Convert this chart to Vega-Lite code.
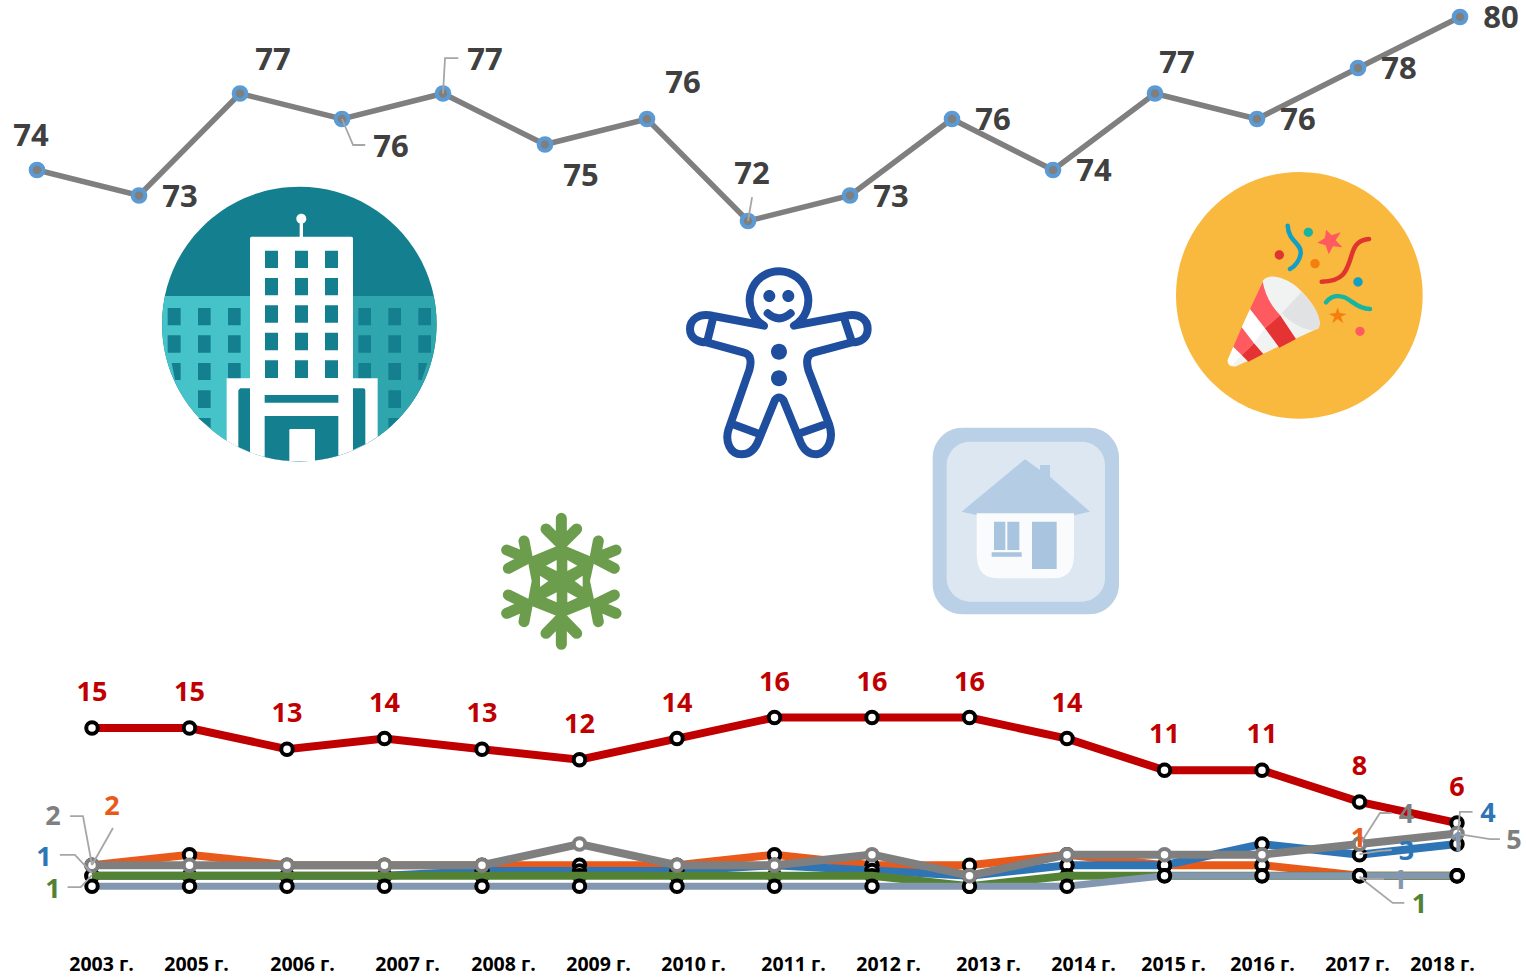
{"$schema":"https://vega.github.io/schema/vega-lite/v6.json","width":1526,"height":979,"autosize":"none","padding":0,"background":"white",
"datasets":{
"top":[{"year":2003,"value":74},{"year":2005,"value":73},{"year":2006,"value":77},{"year":2007,"value":76},{"year":2008,"value":77},{"year":2009,"value":75},{"year":2010,"value":76},{"year":2011,"value":72},{"year":2012,"value":73},{"year":2013,"value":76},{"year":2014,"value":74},{"year":2015,"value":77},{"year":2016,"value":76},{"year":2017,"value":78},{"year":2018,"value":80}],
"topLeaders":[{"leader":"a","order":1,"year":2007,"value":76},{"leader":"a","order":2,"year":2007.11,"value":74.98},{"leader":"a","order":3,"year":2007.23,"value":74.98},{"leader":"b","order":1,"year":2008,"value":77},{"leader":"b","order":2,"year":2008.02,"value":78.39},{"leader":"b","order":3,"year":2008.15,"value":78.39},{"leader":"c","order":1,"year":2011,"value":72},{"leader":"c","order":2,"year":2011.04,"value":72.94}],
"share":[
{"year":2003,"series":"red","value":15},{"year":2005,"series":"red","value":15},{"year":2006,"series":"red","value":13},{"year":2007,"series":"red","value":14},{"year":2008,"series":"red","value":13},{"year":2009,"series":"red","value":12},{"year":2010,"series":"red","value":14},{"year":2011,"series":"red","value":16},{"year":2012,"series":"red","value":16},{"year":2013,"series":"red","value":16},{"year":2014,"series":"red","value":14},{"year":2015,"series":"red","value":11},{"year":2016,"series":"red","value":11},{"year":2017,"series":"red","value":8},{"year":2018,"series":"red","value":6},
{"year":2003,"series":"orange","value":2},{"year":2005,"series":"orange","value":3},{"year":2006,"series":"orange","value":2},{"year":2007,"series":"orange","value":2},{"year":2008,"series":"orange","value":2},{"year":2009,"series":"orange","value":2},{"year":2010,"series":"orange","value":2},{"year":2011,"series":"orange","value":3},{"year":2012,"series":"orange","value":2},{"year":2013,"series":"orange","value":2},{"year":2014,"series":"orange","value":3},{"year":2015,"series":"orange","value":2},{"year":2016,"series":"orange","value":2},{"year":2017,"series":"orange","value":1},{"year":2018,"series":"orange","value":1},
{"year":2003,"series":"blue","value":1},{"year":2005,"series":"blue","value":1},{"year":2006,"series":"blue","value":1},{"year":2007,"series":"blue","value":1},{"year":2008,"series":"blue","value":1.45},{"year":2009,"series":"blue","value":1.45},{"year":2010,"series":"blue","value":1.45},{"year":2011,"series":"blue","value":2},{"year":2012,"series":"blue","value":1.5},{"year":2013,"series":"blue","value":1},{"year":2014,"series":"blue","value":2},{"year":2015,"series":"blue","value":2},{"year":2016,"series":"blue","value":4},{"year":2017,"series":"blue","value":3},{"year":2018,"series":"blue","value":4},
{"year":2003,"series":"green","value":1},{"year":2005,"series":"green","value":1},{"year":2006,"series":"green","value":1},{"year":2007,"series":"green","value":1},{"year":2008,"series":"green","value":1},{"year":2009,"series":"green","value":1},{"year":2010,"series":"green","value":1},{"year":2011,"series":"green","value":1},{"year":2012,"series":"green","value":1},{"year":2013,"series":"green","value":0},{"year":2014,"series":"green","value":1},{"year":2015,"series":"green","value":1},{"year":2016,"series":"green","value":1},{"year":2017,"series":"green","value":1},{"year":2018,"series":"green","value":1},
{"year":2003,"series":"steel","value":0},{"year":2005,"series":"steel","value":0},{"year":2006,"series":"steel","value":0},{"year":2007,"series":"steel","value":0},{"year":2008,"series":"steel","value":0},{"year":2009,"series":"steel","value":0},{"year":2010,"series":"steel","value":0},{"year":2011,"series":"steel","value":0},{"year":2012,"series":"steel","value":0},{"year":2013,"series":"steel","value":0},{"year":2014,"series":"steel","value":0},{"year":2015,"series":"steel","value":1},{"year":2016,"series":"steel","value":1},{"year":2017,"series":"steel","value":1},{"year":2018,"series":"steel","value":1},
{"year":2003,"series":"gray","value":2},{"year":2005,"series":"gray","value":2},{"year":2006,"series":"gray","value":2},{"year":2007,"series":"gray","value":2},{"year":2008,"series":"gray","value":2},{"year":2009,"series":"gray","value":4},{"year":2010,"series":"gray","value":2},{"year":2011,"series":"gray","value":2},{"year":2012,"series":"gray","value":3},{"year":2013,"series":"gray","value":1},{"year":2014,"series":"gray","value":3},{"year":2015,"series":"gray","value":3},{"year":2016,"series":"gray","value":3},{"year":2017,"series":"gray","value":4},{"year":2018,"series":"gray","value":5}],
"leaders":[
{"leader":"a","order":1,"year":2003,"value":2.02},{"leader":"a","order":2,"year":2002.815,"value":6.66},{"leader":"a","order":3,"year":2002.55,"value":6.66},
{"leader":"b","order":1,"year":2003,"value":2.02},{"leader":"b","order":2,"year":2003.43,"value":5.53},
{"leader":"c","order":1,"year":2003,"value":1.26},{"leader":"c","order":2,"year":2002.65,"value":2.97},{"leader":"c","order":3,"year":2002.34,"value":2.97},
{"leader":"d","order":1,"year":2003,"value":1.07},{"leader":"d","order":2,"year":2002.77,"value":-0.07},{"leader":"d","order":3,"year":2002.5,"value":-0.07},
{"leader":"e","order":1,"year":2017,"value":3.91},{"leader":"e","order":2,"year":2017.21,"value":6.95},{"leader":"e","order":3,"year":2017.33,"value":6.95},
{"leader":"f","order":1,"year":2017,"value":3.06},{"leader":"f","order":2,"year":2017.21,"value":3.35},{"leader":"f","order":3,"year":2017.33,"value":3.44},
{"leader":"g","order":1,"year":2017,"value":0.88},{"leader":"g","order":2,"year":2017.09,"value":0.69},{"leader":"g","order":3,"year":2017.25,"value":0.69},
{"leader":"h","order":1,"year":2017,"value":0.88},{"leader":"h","order":2,"year":2017.34,"value":-1.58},{"leader":"h","order":3,"year":2017.46,"value":-1.58},
{"leader":"i","order":1,"year":2018,"value":4.11},{"leader":"i","order":2,"year":2018.03,"value":7.05},{"leader":"i","order":3,"year":2018.16,"value":7.05},
{"leader":"j","order":1,"year":2018,"value":4.96},{"leader":"j","order":2,"year":2018.34,"value":4.48},{"leader":"j","order":3,"year":2018.44,"value":4.48}],
"one":[{"item":"illustration"}]},
"config":{"view":{"stroke":null},"text":{"font":"Open Sans","fontWeight":700}},
"resolve":{"scale":{"x":"independent","y":"independent"},"axis":{"x":"independent","y":"independent"}},
"layer":[
{"data":{"name":"one"},"encoding":{"x":{"value":150},"y":{"value":180}},"layer":[
{"mark":{"type":"point","filled":true,"opacity":1,"size":0.44444,"fill":"#14808F","shape":"M36 432A412 412 0 1 1 860 432A412 412 0 1 1 36 432Z"}},
{"mark":{"type":"point","filled":true,"opacity":1,"size":0.44444,"fill":"#45C3C9","shape":"M45 348H300V782H230A412 412 0 0 1 45 348Z"}},
{"mark":{"type":"point","filled":true,"opacity":1,"size":0.44444,"fill":"#2FA5AD","shape":"M851 348H600V770H683A412 412 0 0 0 851 348Z"}},
{"mark":{"type":"point","filled":true,"opacity":1,"size":0.44444,"fill":"#14808F","shape":"M53 384H92V436H53ZM144 384H182V436H144ZM234 384H272V436H234ZM53 466H92V518H53ZM144 466H182V518H144ZM234 466H272V518H234ZM65 549H92V600H75ZM144 549H182V600H144ZM234 549H272V600H234ZM144 631H182V684H144ZM144 714H182V745L144 714ZM625 384H663V436H625ZM715 384H753V436H715ZM805 384H843V436H805ZM625 466H663V518H625ZM715 466H753V518H715ZM805 466H843V518H805ZM625 549H663V600H625ZM715 549H753V600H715ZM805 549H832L815 600H805ZM715 631H753V684H715ZM715 714H748L715 745Z"}},
{"mark":{"type":"point","filled":true,"opacity":1,"size":0.44444,"fill":"#FFFFFF","shape":"M300 175Q300 170 305 170H604Q609 170 609 175V595H683V770A412 412 0 0 1 230 782V595H300ZM449 125H459V172H449ZM439 116A15 15 0 1 1 469 116A15 15 0 1 1 439 116Z"}},
{"mark":{"type":"point","filled":true,"opacity":1,"size":0.44444,"fill":"#14808F","shape":"M345 212H384V264H345ZM435 212H474V264H435ZM525 212H564V264H525ZM345 294H384V346H345ZM435 294H474V346H435ZM525 294H564V346H525ZM345 376H384V428H345ZM435 376H474V428H435ZM525 376H564V428H525ZM345 458H384V511H345ZM435 458H474V511H435ZM525 458H564V511H525ZM345 541H384V594H345ZM435 541H474V594H435ZM525 541H564V594H525ZM271 625H300V817L265 801V631ZM609 625H640Q646 625 646 631V793L609 810ZM344 645H565V668H344ZM344 708H565V827A412 412 0 0 1 344 831Z"}},
{"mark":{"type":"point","filled":true,"opacity":1,"size":0.44444,"fill":"#FFFFFF","shape":"M422 747H491Q495 747 495 751V844H418V751Q418 747 422 747Z"}}
]},
{"data":{"name":"one"},"encoding":{"x":{"value":670},"y":{"value":255}},"layer":[
{"mark":{"type":"point","filled":false,"opacity":1,"size":0.44444,"stroke":"#1F4E9E","strokeWidth":8,"strokeJoin":"round","strokeCap":"round","shape":"M282 212A88 88 0 1 1 372 212L525 183C570 172 593 195 593 222C593 250 570 262 545 262L430 293C410 298 408 320 415 345L478 510C490 545 480 590 440 598C415 598 400 580 393 565L340 435Q327 420 315 435L262 565C250 590 235 598 215 598C180 598 165 560 175 525L238 345C245 320 243 298 222 293L110 262C85 262 60 250 60 222C60 195 85 172 130 183ZM127 198L112 258M525 198L545 258M195 510L262 535M390 535L460 510M293 175Q327 205 362 175"}},
{"mark":{"type":"point","filled":true,"opacity":1,"size":0.44444,"fill":"#1F4E9E","shape":"M280 123A18 18 0 1 1 316 123A18 18 0 1 1 280 123ZM337 123A18 18 0 1 1 373 123A18 18 0 1 1 337 123ZM303 290A24 24 0 1 1 351 290A24 24 0 1 1 303 290ZM303 370A24 24 0 1 1 351 370A24 24 0 1 1 303 370Z"}}
]},
{"data":{"name":"one"},"encoding":{"x":{"value":1170},"y":{"value":165}},"layer":[
{"mark":{"type":"point","filled":true,"opacity":1,"size":0.44444,"fill":"#F9B93E","shape":"M18 391A370 370 0 1 1 758 391A370 370 0 1 1 18 391Z"}},
{"mark":{"type":"point","filled":true,"opacity":1,"size":0.44444,"fill":"#F1F2F2","shape":"M280 345C300 325 340 335 380 365C430 410 460 465 445 490L200 603Q175 610 173 585Z"}},
{"mark":{"type":"point","filled":true,"opacity":1,"size":0.44444,"fill":"#E1E2E4","shape":"M395 380C430 415 460 465 445 490C430 505 380 490 335 445Z"}},
{"mark":{"type":"point","filled":true,"opacity":1,"size":0.44444,"fill":"#FFFFFF","shape":"M240 432L215 487L252 535L285 490ZM190 545L173 585Q172 600 185 603L215 570Z"}},
{"mark":{"type":"point","filled":true,"opacity":1,"size":0.44444,"fill":"#FF5A5F","shape":"M278 350L240 432L285 490L330 450C300 420 285 385 278 350ZM215 487L190 545L215 570L252 535Z"}},
{"mark":{"type":"point","filled":true,"opacity":1,"size":0.44444,"fill":"#E53233","shape":"M285 490L328 548L378 522L330 450ZM215 570L235 590L280 567L252 535Z"}},
{"mark":{"type":"point","filled":false,"opacity":1,"size":0.44444,"stroke":"#139FC4","strokeWidth":4.5,"strokeCap":"round","shape":"M353 182C355 230 395 235 392 265C390 285 375 305 360 312"}},
{"mark":{"type":"point","filled":false,"opacity":1,"size":0.44444,"stroke":"#E0352F","strokeWidth":4.5,"strokeCap":"round","shape":"M455 350C520 350 530 320 545 270C555 235 570 225 597 222"}},
{"mark":{"type":"point","filled":false,"opacity":1,"size":0.44444,"stroke":"#17B3A3","strokeWidth":4.5,"strokeCap":"round","shape":"M468 412C490 385 520 390 545 410C565 425 580 432 600 432"}},
{"mark":{"type":"point","filled":true,"opacity":1,"size":0.44444,"fill":"#17B3A3","shape":"M401 202A14 14 0 1 1 429 202A14 14 0 1 1 401 202Z"}},
{"mark":{"type":"point","filled":true,"opacity":1,"size":0.44444,"fill":"#E0352F","shape":"M314 270A14 14 0 1 1 342 270A14 14 0 1 1 314 270Z"}},
{"mark":{"type":"point","filled":true,"opacity":1,"size":0.44444,"fill":"#F57F0E","shape":"M421 296A14 14 0 1 1 449 296A14 14 0 1 1 421 296ZM503 427L509 444L530 447L513 455L520 475L503 462L487 475L493 455L476 447L497 444Z"}},
{"mark":{"type":"point","filled":true,"opacity":1,"size":0.44444,"fill":"#139FC4","shape":"M550 351A14 14 0 1 1 578 351A14 14 0 1 1 550 351Z"}},
{"mark":{"type":"point","filled":true,"opacity":1,"size":0.44444,"fill":"#FF5A5F","shape":"M556 499A14 14 0 1 1 584 499A14 14 0 1 1 556 499ZM468 194L485 211L512 202L497 226L517 247L489 244L476 268L467 241L442 233L465 219Z"}}
]},
{"data":{"name":"one"},"encoding":{"x":{"value":920},"y":{"value":415}},"layer":[
{"mark":{"type":"point","filled":true,"opacity":1,"size":0.44444,"fill":"#B9D0E6","shape":"M128 38H507A90 90 0 0 1 597 128V508A90 90 0 0 1 507 598H128A90 90 0 0 1 38 508V128A90 90 0 0 1 128 38Z"}},
{"mark":{"type":"point","filled":true,"opacity":1,"size":0.44444,"fill":"#DCE7F2","shape":"M150 80H485A70 70 0 0 1 555 150V490A70 70 0 0 1 485 560H150A70 70 0 0 1 80 490V150A70 70 0 0 1 150 80Z"}},
{"mark":{"type":"point","filled":true,"opacity":1,"size":0.44444,"fill":"#B4CCE4","shape":"M125 290L315 133L360 165V150H390V185L510 290L465 300H170Z"}},
{"mark":{"type":"point","filled":true,"opacity":1,"size":0.44444,"fill":"#FAFBFD","shape":"M170 295H462V420Q462 490 400 490H235Q170 490 170 420Z"}},
{"mark":{"type":"point","filled":true,"opacity":1,"size":0.44444,"fill":"#A9C4DE","shape":"M222 320H256V405H222ZM262 320H298V405H262ZM215 412H305V425H215ZM336 320H410V462H336Z"}}
]},
{"data":{"name":"one"},"encoding":{"x":{"value":490},"y":{"value":505}},"layer":[
{"mark":{"type":"point","filled":false,"opacity":1,"size":0.44444,"stroke":"#6C9D4C","strokeWidth":11,"strokeCap":"round","shape":"M214 40V418M214 118L168 72M214 118L260 72M214 338L168 385M214 338L260 385M112 160L102 108M112 160L50 135M112 160L55 190M315 160L325 108M315 160L378 135M315 160L373 190M112 298L55 270M112 298L50 325M112 298L102 350M315 298L373 270M315 298L378 325M315 298L325 350"}},
{"mark":{"type":"point","filled":true,"opacity":1,"size":0.44444,"fill":"#6C9D4C","shape":"M214 118L315 160L300 228L315 298L214 338L112 298L125 228L112 160Z"}},
{"mark":{"type":"point","filled":true,"opacity":1,"size":0.44444,"fill":"#FFFFFF","shape":"M168 182L200 165V198ZM232 165L262 182L232 198ZM150 212L175 228L150 246ZM278 212L254 228L278 246ZM168 278L200 262V292ZM232 262L262 278L232 292Z"}}
]},
{"data":{"name":"top"},"encoding":{"x":{"field":"year","type":"quantitative","axis":null,"scale":{"zero":false,"nice":false,"domain":[2003,2005,2006,2007,2008,2009,2010,2011,2012,2013,2014,2015,2016,2017,2018],"range":[37,139,240,342,443,545,647,748,850,952,1053,1155,1257,1358,1460]}},"y":{"field":"value","type":"quantitative","axis":null,"scale":{"zero":false,"nice":false,"domain":[72,80],"range":[221,17]}}},"layer":[
{"mark":{"type":"line","color":"#7F7F7F","strokeWidth":5.5}},
{"mark":{"type":"point","filled":false,"opacity":1,"size":160,"fill":"#7F7F7F","stroke":"#5B9BD5","strokeWidth":4}},
{"data":{"name":"topLeaders"},"mark":{"type":"line","color":"#A6A6A6","strokeWidth":1.8},"encoding":{"detail":{"field":"leader"},"order":{"field":"order"}}},
{"transform":[{"filter":"indexof([2005,2012,2013,2014,2016,2017,2018],datum.year)>=0"}],"mark":{"type":"text","fontSize":31,"color":"#404040","dx":41,"dy":2},"encoding":{"text":{"field":"value"}}},
{"transform":[{"filter":"datum.year==2003"}],"mark":{"type":"text","fontSize":31,"color":"#404040","dx":-6,"dy":-33},"encoding":{"text":{"field":"value"}}},
{"transform":[{"filter":"datum.year==2006"}],"mark":{"type":"text","fontSize":31,"color":"#404040","dx":33,"dy":-33},"encoding":{"text":{"field":"value"}}},
{"transform":[{"filter":"datum.year==2007"}],"mark":{"type":"text","fontSize":31,"color":"#404040","dx":49,"dy":29},"encoding":{"text":{"field":"value"}}},
{"transform":[{"filter":"datum.year==2008"}],"mark":{"type":"text","fontSize":31,"color":"#404040","dx":42,"dy":-33},"encoding":{"text":{"field":"value"}}},
{"transform":[{"filter":"datum.year==2009"}],"mark":{"type":"text","fontSize":31,"color":"#404040","dx":36,"dy":32},"encoding":{"text":{"field":"value"}}},
{"transform":[{"filter":"datum.year==2010"}],"mark":{"type":"text","fontSize":31,"color":"#404040","dx":36,"dy":-35},"encoding":{"text":{"field":"value"}}},
{"transform":[{"filter":"datum.year==2011"}],"mark":{"type":"text","fontSize":31,"color":"#404040","dx":4,"dy":-46},"encoding":{"text":{"field":"value"}}},
{"transform":[{"filter":"datum.year==2015"}],"mark":{"type":"text","fontSize":31,"color":"#404040","dx":22,"dy":-30},"encoding":{"text":{"field":"value"}}}
]},
{"data":{"name":"share"},"encoding":{"x":{"field":"year","type":"quantitative","axis":null,"scale":{"zero":false,"nice":false,"domain":[2003,2005,2006,2007,2008,2009,2010,2011,2012,2013,2014,2015,2016,2017,2018],"range":[92,189.5,287,384.5,482,579.5,677,774.5,872,969.5,1067,1164.5,1262,1359.5,1457]}},"y":{"field":"value","type":"quantitative","axis":null,"scale":{"zero":false,"nice":false,"domain":[0,16],"range":[886.3,717.5]}},"color":{"field":"series","type":"nominal","legend":null,"scale":{"domain":["red","orange","blue","green","steel","gray"],"range":["#C00000","#E8591A","#2E75B6","#548235","#8497B0","#7F7F7F"]}}},"layer":[
{"transform":[{"filter":"datum.series=='red'"}],"mark":{"type":"line","strokeWidth":8}},
{"transform":[{"filter":"datum.series=='red'"}],"mark":{"type":"point","filled":false,"opacity":1,"size":132,"fill":"white","stroke":"black","strokeWidth":4},"encoding":{"color":{"value":"black"}}},
{"transform":[{"filter":"datum.series=='orange'"}],"mark":{"type":"line","strokeWidth":8}},
{"transform":[{"filter":"datum.series=='orange'"}],"mark":{"type":"point","filled":false,"opacity":1,"size":132,"fill":"white","stroke":"black","strokeWidth":4},"encoding":{"color":{"value":"black"}}},
{"transform":[{"filter":"datum.series=='blue'"}],"mark":{"type":"line","strokeWidth":8}},
{"transform":[{"filter":"datum.series=='blue'"}],"mark":{"type":"point","filled":false,"opacity":1,"size":132,"fill":"white","stroke":"black","strokeWidth":4},"encoding":{"color":{"value":"black"}}},
{"transform":[{"filter":"datum.series=='green'"}],"mark":{"type":"point","filled":false,"opacity":1,"size":132,"fill":"white","stroke":"black","strokeWidth":4},"encoding":{"color":{"value":"black"}}},
{"transform":[{"filter":"datum.series=='green'"}],"mark":{"type":"line","strokeWidth":8}},
{"transform":[{"filter":"datum.series=='steel'"}],"mark":{"type":"line","strokeWidth":7}},
{"transform":[{"filter":"datum.series=='steel'"}],"mark":{"type":"point","filled":false,"opacity":1,"size":132,"fill":"white","stroke":"black","strokeWidth":4},"encoding":{"color":{"value":"black"}}},
{"transform":[{"filter":"datum.series=='gray'"}],"mark":{"type":"line","strokeWidth":8}},
{"transform":[{"filter":"datum.series=='gray'"}],"mark":{"type":"point","filled":false,"opacity":1,"size":132,"fill":"white","stroke":"#7F7F7F","strokeWidth":4},"encoding":{"color":{"value":"#7F7F7F"}}},
{"transform":[{"filter":"datum.series=='red'"}],"mark":{"type":"text","fontSize":27,"dy":-35},"encoding":{"text":{"field":"value"}}},
{"data":{"name":"leaders"},"mark":{"type":"line","strokeWidth":1.8},"encoding":{"color":{"value":"#A6A6A6"},"detail":{"field":"leader"},"order":{"field":"order"}}},
{"transform":[{"filter":"datum.year==2003&&datum.series=='gray'"}],"mark":{"type":"text","fontSize":27,"dx":-39,"dy":-48},"encoding":{"text":{"field":"value"}}},
{"transform":[{"filter":"datum.year==2003&&datum.series=='orange'"}],"mark":{"type":"text","fontSize":27,"dx":20,"dy":-58},"encoding":{"text":{"field":"value"}}},
{"transform":[{"filter":"datum.year==2003&&datum.series=='blue'"}],"mark":{"type":"text","fontSize":27,"dx":-48,"dy":-18},"encoding":{"text":{"field":"value"}}},
{"transform":[{"filter":"datum.year==2003&&datum.series=='green'"}],"mark":{"type":"text","fontSize":27,"dx":-39,"dy":14},"encoding":{"text":{"field":"value"}}},
{"transform":[{"filter":"datum.year==2017&&datum.series=='orange'"}],"mark":{"type":"text","fontSize":27,"dx":-1,"dy":-37},"encoding":{"text":{"field":"value"}}},
{"transform":[{"filter":"datum.year==2017&&datum.series=='gray'"}],"mark":{"type":"text","fontSize":27,"dx":47,"dy":-29},"encoding":{"text":{"field":"value"}}},
{"transform":[{"filter":"datum.year==2017&&datum.series=='blue'"}],"mark":{"type":"text","fontSize":27,"dx":47,"dy":-3},"encoding":{"text":{"field":"value"}}},
{"transform":[{"filter":"datum.year==2017&&datum.series=='steel'"}],"mark":{"type":"text","fontSize":27,"dx":40,"dy":5},"encoding":{"text":{"field":"value"}}},
{"transform":[{"filter":"datum.year==2017&&datum.series=='green'"}],"mark":{"type":"text","fontSize":27,"dx":60,"dy":29},"encoding":{"text":{"field":"value"}}},
{"transform":[{"filter":"datum.year==2018&&datum.series=='blue'"}],"mark":{"type":"text","fontSize":27,"dx":31,"dy":-30},"encoding":{"text":{"field":"value"}}},
{"transform":[{"filter":"datum.year==2018&&datum.series=='gray'"}],"mark":{"type":"text","fontSize":27,"dx":57,"dy":7},"encoding":{"text":{"field":"value"}}},
{"transform":[{"filter":"datum.year==2018&&datum.series=='steel'"}],"mark":{"type":"text","fontSize":27,"dx":0,"dy":-33},"encoding":{"text":{"field":"value"}}}
]},
{"data":{"name":"top"},"mark":{"type":"point","opacity":0},"encoding":{"y":{"value":0},"x":{"field":"year","type":"quantitative","scale":{"zero":false,"nice":false,"domain":[2003,2005,2006,2007,2008,2009,2010,2011,2012,2013,2014,2015,2016,2017,2018],"range":[101,196,302,407,503,598,693,793,888,988,1083,1173,1262,1357,1442]},"axis":{"title":null,"orient":"bottom","offset":-24,"values":[2003,2005,2006,2007,2008,2009,2010,2011,2012,2013,2014,2015,2016,2017,2018],"format":"d","labelExpr":"datum.label + ' г.'","labelOverlap":false,"labelFlush":false,"domain":false,"ticks":false,"grid":false,"labelFont":"Open Sans","labelFontWeight":700,"labelFontSize":19.5,"labelColor":"black","labelBaseline":"middle","labelPadding":9}}}}
]}
